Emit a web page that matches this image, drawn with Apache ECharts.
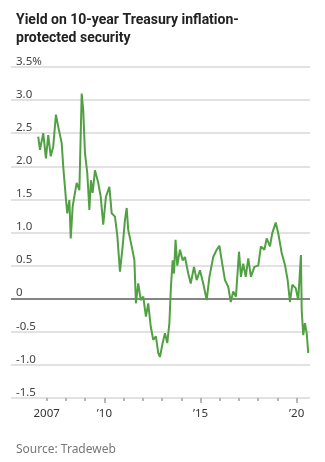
<!DOCTYPE html>
<html><head><meta charset="utf-8">
<script src="https://cdn.jsdelivr.net/npm/echarts@6/dist/echarts.min.js"></script>
<style>html,body{margin:0;padding:0;background:#fff;}#c{width:325px;height:462px;}</style>
</head><body><div id="c"></div>
<script>
// Decimal years (time) and yield in percent
const years = [2006.56,2006.65,2006.82,2006.96,2007.08,2007.21,2007.34,2007.48,2007.60,2007.78,2007.86,2007.99,2008.07,2008.18,2008.25,2008.35,2008.47,2008.56,2008.70,2008.82,2008.90,2008.99,2009.11,2009.22,2009.30,2009.39,2009.51,2009.68,2009.81,2009.94,2010.08,2010.26,2010.38,2010.55,2010.67,2010.81,2010.95,2011.07,2011.16,2011.24,2011.42,2011.56,2011.64,2011.76,2011.89,2012.02,2012.16,2012.28,2012.41,2012.54,2012.68,2012.80,2012.89,2013.03,2013.15,2013.27,2013.38,2013.46,2013.55,2013.62,2013.70,2013.79,2013.93,2014.07,2014.19,2014.36,2014.49,2014.66,2014.80,2014.97,2015.14,2015.32,2015.46,2015.66,2015.84,2015.98,2016.10,2016.27,2016.44,2016.57,2016.70,2016.84,2017.00,2017.10,2017.22,2017.35,2017.48,2017.62,2017.80,2018.00,2018.14,2018.32,2018.44,2018.61,2018.73,2018.91,2019.04,2019.22,2019.39,2019.53,2019.65,2019.77,2019.95,2020.08,2020.17,2020.22,2020.26,2020.34,2020.43,2020.52,2020.60];
const yields = [2.45,2.25,2.50,2.12,2.47,2.15,2.30,2.78,2.60,2.35,2.00,1.54,1.29,1.49,0.91,1.39,1.60,1.75,1.64,3.10,2.85,2.20,1.90,1.34,1.79,1.60,1.94,1.75,1.54,1.12,1.54,1.69,1.29,1.24,0.96,0.41,0.79,1.19,1.37,1.04,0.79,0.58,-0.07,0.23,-0.02,0.03,-0.27,-0.07,-0.42,-0.62,-0.57,-0.82,-0.88,-0.67,-0.52,-0.67,-0.37,0.18,0.58,0.38,0.89,0.50,0.74,0.58,0.63,0.38,0.23,0.48,0.28,0.43,0.23,-0.02,0.33,0.63,0.74,0.80,0.58,0.28,0.18,-0.05,0.11,0.03,0.71,0.33,0.53,0.33,0.61,0.33,0.48,0.50,0.79,0.74,0.91,0.79,0.99,1.15,0.99,0.69,0.51,0.28,-0.05,0.21,0.16,-0.02,0.00,0.66,-0.17,-0.55,-0.37,-0.52,-0.82];
const firstTickYear = 2007, lastTickYear = 2020, firstMajorYear = 2010;
const labelText = {2007:'2007',2010:'\u201910',2015:'\u201915',2020:'\u201920'};

// layout (pixels) of the main plotting area
const W = 325, PL = 11, PR = 15, PT = 67, PB = 64;
const X_MIN = 2005.144, X_MAX = 2020.692;
const pxPerYear = (W - PL - PR) / (X_MAX - X_MIN);
const leftAt = y => PL + (y - X_MIN) * pxPerYear;
const rightAt = y => W - leftAt(y);

const chart = echarts.init(document.getElementById('c'), null, {renderer:'canvas'});
const FONT = '"Noto Sans", "Open Sans", sans-serif';
const hiddenY = i => ({gridIndex:i, type:'value', min:-1.5, max:3.5, show:false});
chart.setOption({
  animation:false,
  backgroundColor:'#fff',
  title:[
    {text:'Yield on 10-year Treasury inflation-\nprotected security', left:11, top:6,
     textStyle:{fontFamily:'Roboto, "Noto Sans", sans-serif', fontSize:14, fontWeight:'bold', color:'#222', lineHeight:18.5}},
    {text:'Source: Tradeweb', left:11, top:439,
     textStyle:{fontFamily:FONT, fontSize:12, fontWeight:'normal', color:'#777'}}
  ],
  grid:[
    {left:PL, right:PR, top:PT, bottom:PB},
    {left:leftAt(firstTickYear), right:rightAt(lastTickYear), top:PT, bottom:PB},
    {left:leftAt(firstMajorYear), right:rightAt(lastTickYear), top:PT, bottom:PB}
  ],
  xAxis:[{
    gridIndex:0, type:'value', min:X_MIN, max:X_MAX,
    axisLine:{show:false, onZero:false},
    splitLine:{show:false}, axisTick:{show:false}, axisLabel:{show:false}
  },{
    gridIndex:1, type:'value', min:firstTickYear, max:lastTickYear, interval:1,
    axisLine:{show:false, onZero:false}, splitLine:{show:false},
    axisTick:{show:true, length:3, lineStyle:{color:'#a0a0a0', width:1.5}},
    axisLabel:{show:true, formatter:v=>labelText[v]||'', fontFamily:FONT, fontSize:11.5, color:'#333', margin:10}
  },{
    gridIndex:2, type:'value', min:firstMajorYear, max:lastTickYear, interval:5,
    axisLine:{show:false, onZero:false}, splitLine:{show:false},
    axisTick:{show:true, length:5, lineStyle:{color:'#a0a0a0', width:1.5}},
    axisLabel:{show:false}
  }],
  yAxis:[{
    gridIndex:0, type:'value', min:-1.5, max:3.5, interval:0.5,
    axisLine:{show:false, onZero:false}, axisTick:{show:false},
    splitLine:{show:true, lineStyle:{color:'#e2e2e2', width:2}},
    axisLabel:{inside:true, margin:5, verticalAlign:'bottom', lineHeight:11,
      fontFamily:FONT, fontSize:11.5, color:'#444',
      formatter:v=>{ if(v===3.5) return '3.5%'; if(v===0) return '0'; return v.toFixed(1);} }
  }, hiddenY(1), hiddenY(2)],
  series:[{
    type:'line', xAxisIndex:0, yAxisIndex:0, data:years.map((y,i)=>[y,yields[i]]),
    showSymbol:false, lineStyle:{color:'#52a044', width:2}, z:3,
    markLine:{silent:true, symbol:'none', label:{show:false},
      lineStyle:{color:'#666', width:1.5, type:'solid'}, data:[{yAxis:0}], z:2}
  }]
});
</script></body></html>
